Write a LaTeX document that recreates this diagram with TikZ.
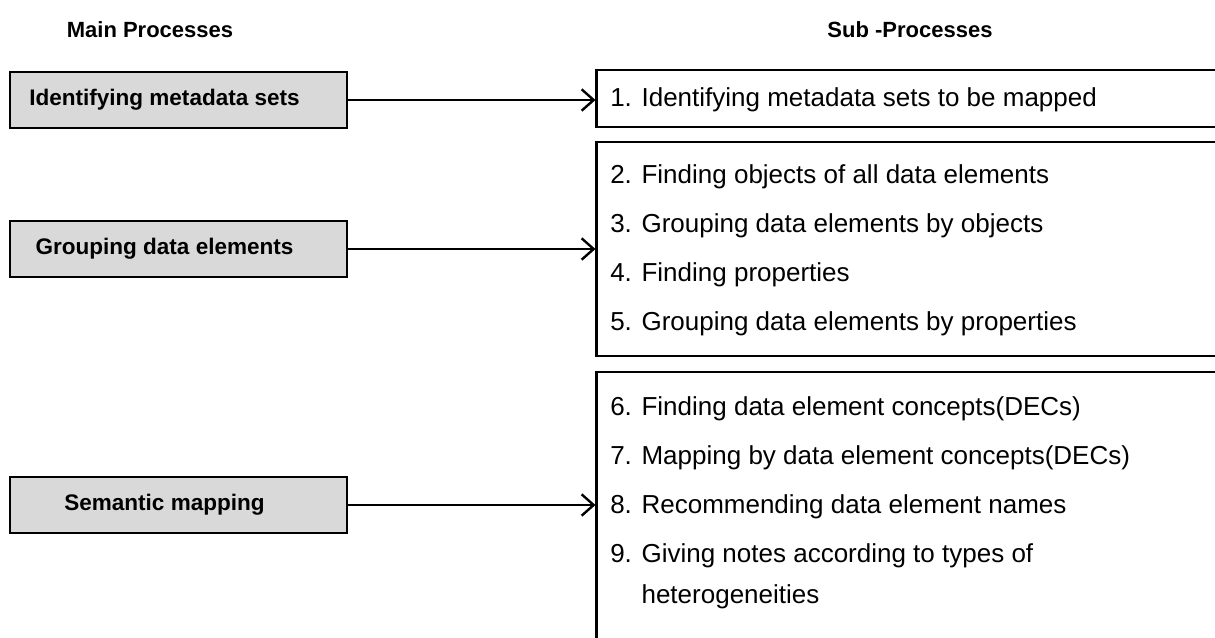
\documentclass[tikz,border=0pt]{standalone}
\usepackage{fontspec}
\setmainfont{Liberation Sans}
\usetikzlibrary{positioning,arrows.meta}
\definecolor{boxgray}{HTML}{D9D9D9}
\tikzset{
  head/.style={font=\bfseries\fontsize{16.5}{20}\selectfont},
  mainbox/.style={draw, line width=2.2pt, fill=boxgray, minimum width=252.75pt, minimum height=42pt,
    font=\bfseries\fontsize{16.9}{20}\selectfont, execute at begin node=\hspace*{-21pt}},
  subbox/.style={draw, line width=1.8pt, minimum width=482pt},
  item/.style={anchor=base west, inner sep=0pt, font=\fontsize{19.5}{23}\selectfont},
  arr/.style={line width=1.8pt, -{Straight Barb[length=9pt,width=16pt,line width=1.8pt]}}
}
\begin{document}
\begin{tikzpicture}[x=0.75pt, y=-0.75pt]
\useasboundingbox (0,0) rectangle (1215,637);
\clip (0,0) rectangle (1215,637);
% headers
\node[head] (mainhead) at (150,30) {Main Processes};
\node[head] (subhead) at (910,30) {Sub -Processes};
% main processes
\node[mainbox] (main1) at (178.5,100) {Identifying metadata sets};
\node[mainbox] (main2) at (178.5,249) {Grouping data elements};
\node[mainbox] (main3) at (178.5,505) {Semantic mapping};
% sub-process boxes
\node[subbox, minimum height=42.75pt] (sub1) at (918,98.5) {};
\node[subbox, minimum height=160.5pt] (sub2) at (918,249) {};
\node[subbox, minimum height=216pt] (sub3) at (918,516) {};
% sub-process items
\node[item] (s1) at (610,106) {1. Identifying metadata sets to be mapped};
\foreach \txt [count=\i] in {2. Finding objects of all data elements,
    3. Grouping data elements by objects, 4. Finding properties,
    5. Grouping data elements by properties}
  \node[item] (s2\i) at (610,134+\i*49) {\txt};
\foreach \txt [count=\i] in {6. Finding data element concepts(DECs),
    7. Mapping by data element concepts(DECs), 8. Recommending data element names,
    9. Giving notes according to types of}
  \node[item] (s3\i) at (610,366+\i*49) {\txt};
\node[item] (s35) at (610,603) {\phantom{9. }heterogeneities};
% arrows
\draw[arr] (main1.east) -- (main1.east -| sub1.west);
\draw[arr] (main2.east) -- (main2.east -| sub2.west);
\draw[arr] (main3.east) -- (main3.east -| sub3.west);
\end{tikzpicture}
\end{document}
